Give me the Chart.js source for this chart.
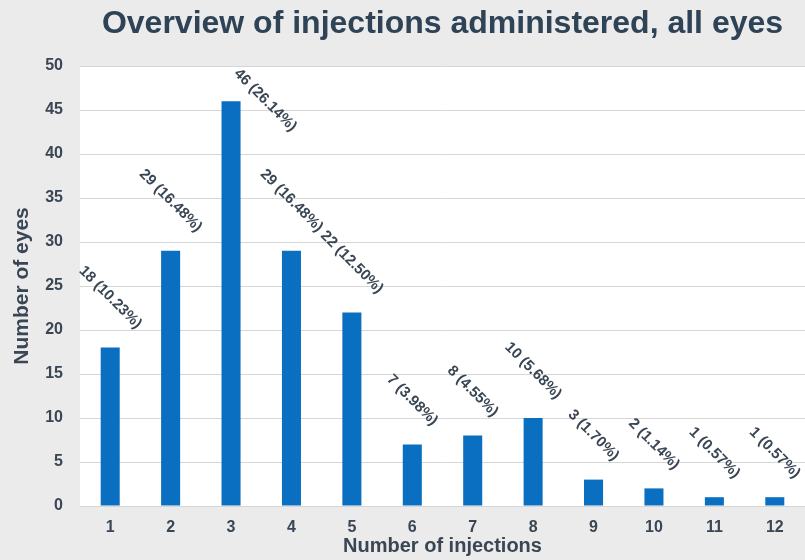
<!DOCTYPE html>
<html>
<head>
<meta charset="utf-8">
<script src="https://cdn.jsdelivr.net/npm/chart.js@4/dist/chart.umd.min.js"></script>
<style>
  html, body { margin: 0; padding: 0; background: #ebebeb; }
  canvas { display: block; }
</style>
</head>
<body>
<canvas id="c" width="805" height="560"></canvas>
<script>
// ---- data ----
const categories = ['1', '2', '3', '4', '5', '6', '7', '8', '9', '10', '11', '12'];
const eyeCounts = [18, 29, 46, 29, 22, 7, 8, 10, 3, 2, 1, 1];
const percentLabels = ['10.23', '16.48', '26.14', '16.48', '12.50', '3.98', '4.55', '5.68', '1.70', '1.14', '0.57', '0.57'];
const yTickValues = [0, 5, 10, 15, 20, 25, 30, 35, 40, 45, 50];

const TEXT = '#3a4654';
const FONT = "'Liberation Sans', Arial, sans-serif";

const plotBg = {
  id: 'plotBg',
  beforeDraw(chart) {
    const { ctx, chartArea: a } = chart;
    ctx.save();
    ctx.fillStyle = '#ebebeb';
    ctx.fillRect(0, 0, chart.width, chart.height);
    ctx.fillStyle = '#ffffff';
    ctx.fillRect(a.left, a.top, a.right - a.left, a.bottom - a.top);
    ctx.restore();
  }
};

const rotatedLabels = {
  id: 'rotatedLabels',
  afterDatasetsDraw(chart) {
    const { ctx, chartArea: a } = chart;
    const meta = chart.getDatasetMeta(0);
    ctx.save();
    ctx.font = 'bold 15px ' + FONT;
    ctx.fillStyle = TEXT;
    ctx.textAlign = 'center';
    ctx.textBaseline = 'middle';
    meta.data.forEach((bar, i) => {
      const text = eyeCounts[i] + ' (' + percentLabels[i] + '%)';
      const L = ctx.measureText(text).width;
      const half = (L + 15) / (2 * Math.SQRT2);
      let cx = bar.x;
      let cy = bar.y - half - 16;
      if (cy - half < a.top) {
        cy = a.top + half;
        cx = bar.x + half;
      }
      ctx.save();
      ctx.translate(cx, cy);
      ctx.rotate(Math.PI / 4);
      ctx.fillText(text, 0, 0);
      ctx.restore();
    });
    ctx.restore();
  }
};

new Chart(document.getElementById('c'), {
  type: 'bar',
  data: {
    labels: categories,
    datasets: [{
      data: eyeCounts,
      backgroundColor: '#0a6fc0',
      borderWidth: 0,
      categoryPercentage: 1,
      barPercentage: 0.315
    }]
  },
  options: {
    responsive: false,
    devicePixelRatio: 1,
    animation: false,
    layout: { padding: { left: 0, right: 0, top: 0, bottom: 0 } },
    plugins: {
      legend: { display: false },
      tooltip: { enabled: false },
      title: {
        display: true,
        text: 'Overview of injections administered, all eyes',
        fullSize: false,
        color: '#2f4356',
        font: { family: FONT, size: 32, weight: 'bold', lineHeight: 1.2 },
        padding: { top: 5, bottom: 22.6 }
      }
    },
    scales: {
      x: {
        grid: { display: false, drawTicks: false },
        border: { display: false },
        ticks: { color: TEXT, padding: 14, font: { family: FONT, size: 16, weight: 'bold', lineHeight: 1 } },
        title: {
          display: true,
          text: 'Number of injections',
          color: TEXT,
          font: { family: FONT, size: 20, weight: 'bold', lineHeight: 1 },
          padding: { top: -14, bottom: 4 }
        }
      },
      y: {
        min: yTickValues[0],
        max: yTickValues[yTickValues.length - 1],
        afterBuildTicks(scale) { scale.ticks = yTickValues.map(v => ({ value: v })); },
        grid: { color: '#d6d6d6', lineWidth: 1, drawTicks: false },
        border: { display: false },
        ticks: { color: TEXT, padding: 17, font: { family: FONT, size: 16, weight: 'bold', lineHeight: 1 } },
        title: {
          display: true,
          text: 'Number of eyes',
          color: TEXT,
          font: { family: FONT, size: 21, weight: 'bold', lineHeight: 1 },
          padding: { top: 11.5, bottom: -4.3 }
        }
      }
    }
  },
  plugins: [plotBg, rotatedLabels]
});
</script>
</body>
</html>
